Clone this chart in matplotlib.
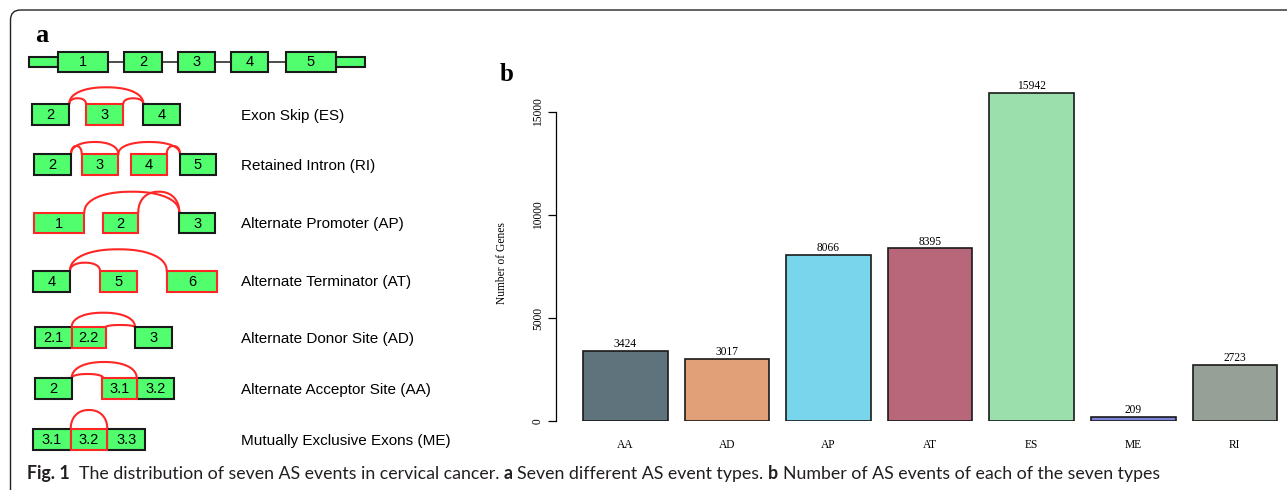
import numpy as np
import matplotlib
matplotlib.use('Agg')
import matplotlib.pyplot as plt
from matplotlib.patches import Rectangle, FancyBboxPatch

# ---------------- data ----------------
categories = ['AA', 'AD', 'AP', 'AT', 'ES', 'ME', 'RI']
counts = [3424, 3017, 8066, 8395, 15942, 209, 2723]
bar_colors = ['#5e737b', '#e2a078', '#79d5eb', '#b8677b', '#9bdfad', '#7b84d8', '#97a097']
y_ticks = [0, 5000, 10000, 15000]

gene_exon_labels = ['1', '2', '3', '4', '5']
event_names = ['Exon Skip (ES)', 'Retained Intron (RI)', 'Alternate Promoter (AP)',
               'Alternate Terminator (AT)', 'Alternate Donor Site (AD)',
               'Alternate Acceptor Site (AA)', 'Mutually Exclusive Exons (ME)']
event_exon_labels = [['2', '3', '4'], ['2', '3', '4', '5'], ['1', '2', '3'], ['4', '5', '6'],
                     ['2.1', '2.2', '3'], ['2', '3.1', '3.2'], ['3.1', '3.2', '3.3']]
event_alt = [[0, 1, 0], [0, 1, 1, 0], [1, 1, 0], [0, 1, 1], [0, 1, 0], [0, 1, 0], [0, 1, 0]]

caption_pieces = [("Fig. 1", 'bold'), ("The distribution of seven AS events in cervical cancer.", 'normal'),
                  ("a", 'bold'), ("Seven different AS event types.", 'normal'),
                  ("b", 'bold'), ("Number of AS events of each of the seven types", 'normal')]

# ---------------- layout (pixels) ----------------
W, H = 1287, 490
gene_utr_x = [(29.3, 58.3), (336, 365)]
gene_exon_x = [(58.3, 108.3), (124.3, 161.7), (177.7, 215), (231, 268.3), (286, 336)]
row_y = [(104, 125), (154.3, 175.5), (212.7, 233.3), (271, 291.7), (327.3, 348.3), (378.3, 399.3), (429.3, 450)]
row_boxes = [[(32.3, 69.3), (86, 123.3), (143.3, 180)],
             [(34, 71), (81.7, 118.3), (130.7, 166.7), (180, 216)],
             [(34.3, 84.3), (102.7, 138.3), (179.3, 215)],
             [(33.3, 70), (100, 136.7), (166.7, 217.3)],
             [(35, 71.7), (71.7, 105.7), (135, 172.3)],
             [(35, 71.7), (101.7, 136.7), (136.7, 174)],
             [(33.3, 70.7), (70.7, 107.3), (107.3, 145)]]
row_arcs = [[(69.3, 143.3, 87.3), (69.3, 86, 98.3), (123.3, 143.3, 98.3)],
            [(71, 118.3, 142), (118.3, 180, 142), (71, 81.7, 146), (166.7, 180, 146)],
            [(84.3, 179.3, 191.7), (138.3, 179.3, 191.7)],
            [(70, 100, 262.7), (70, 166.7, 249.3)],
            [(71.7, 135, 312.7), (105.7, 135, 325)],
            [(71.7, 136.7, 362), (71.7, 103.3, 374)],
            [(70.7, 107.3, 410)]]
GREEN = '#50fe6e'
RED = '#ff2626'
DARK = '#1a1a1a'
SANS = 'Liberation Sans'
SERIF = 'Liberation Serif'

fig = plt.figure(figsize=(W / 100, H / 100), dpi=100)
ax0 = fig.add_axes([0, 0, 1, 1])
ax0.set_xlim(0, W)
ax0.set_ylim(H, 0)
ax0.axis('off')

# frame
ax0.add_patch(FancyBboxPatch((10.5, 10), 1500, 700, boxstyle='round,pad=0,rounding_size=10',
                             fc='none', ec='#222222', lw=1.0))

# panel labels
ax0.text(41.5, 42.3, 'a', fontsize=19, fontweight='bold', family=SERIF, ha='center', va='baseline')
ax0.text(506.5, 80.7, 'b', fontsize=18, fontweight='bold', family=SERIF, ha='center', va='baseline')

# gene structure
gy0, gy1 = 51.7, 72.3
uy0, uy1 = 57.3, 66.7
ax0.plot([gene_exon_x[0][0], gene_exon_x[-1][1]], [62, 62], color=DARK, lw=1.1, zorder=1)
for (x0, x1) in gene_utr_x:
    ax0.add_patch(Rectangle((x0, uy0), x1 - x0, uy1 - uy0, fc=GREEN, ec=DARK, lw=1.5, zorder=2))
for (x0, x1), lab in zip(gene_exon_x, gene_exon_labels):
    ax0.add_patch(Rectangle((x0, gy0), x1 - x0, gy1 - gy0, fc=GREEN, ec=DARK, lw=1.5, zorder=2))
    ax0.text((x0 + x1) / 2, (gy0 + gy1) / 2 + 0.5, lab, family=SANS, fontsize=10.5,
             ha='center', va='center', zorder=3)

# events
t = np.linspace(np.pi, 2 * np.pi, 120)
p = 0.9
ct, st = np.cos(t), np.sin(t)
ux = np.sign(ct) * np.abs(ct) ** p
uy = -np.abs(st) ** p
for name, labs, alts, (y0, y1), boxes, arcs in zip(event_names, event_exon_labels, event_alt,
                                                   row_y, row_boxes, row_arcs):
    for (xa, xb, peak) in arcs:
        cx, rx, ry = (xa + xb) / 2, (xb - xa) / 2, y0 - peak
        ax0.plot(cx + rx * ux, y0 + ry * uy, color=RED, lw=1.5, zorder=1,
                 solid_capstyle='round')
    order = sorted(range(len(boxes)), key=lambda i: alts[i])
    for i in order:
        x0, x1 = boxes[i]
        ec = RED if alts[i] else DARK
        ax0.add_patch(Rectangle((x0, y0), x1 - x0, y1 - y0, fc=GREEN, ec=ec, lw=1.5, zorder=2 + alts[i]))
        ax0.text((x0 + x1) / 2, (y0 + y1) / 2 + 0.5, labs[i], family=SANS, fontsize=10.5,
                 ha='center', va='center', zorder=4)
    ax0.text(240.7, (y0 + y1) / 2 + 1, name, family=SANS, fontsize=11, ha='left', va='center')

# ---------------- panel b ----------------
unit = 101.55
left_px, right_px = 556, W
base_px, top_val = 421.3, 16500
px_per_val = 309.3 / 15000
ax = fig.add_axes([left_px / W, (H - base_px) / H, (right_px - left_px) / W, top_val * px_per_val / H])
ax.patch.set_alpha(0)
x = np.arange(len(categories))
ax.bar(x, counts, width=84.5 / unit, color=bar_colors, edgecolor=DARK, linewidth=1.2)
x_left = (left_px - 625.5) / unit
ax.set_xlim(x_left, x_left + (right_px - left_px) / unit)
ax.set_ylim(0, top_val)
for s in ['top', 'right', 'bottom']:
    ax.spines[s].set_visible(False)
ax.spines['left'].set_bounds(0, 15000)
ax.spines['left'].set_linewidth(0.9)
ax.set_yticks(y_ticks)
ax.set_yticklabels([str(v) for v in y_ticks], rotation=90, va='center', family=SERIF, fontsize=8.3)
ax.tick_params(axis='y', length=5.8, width=0.9, pad=3)
ax.set_xticks(x)
ax.set_xticklabels(categories, family=SERIF, fontsize=8.3)
ax.tick_params(axis='x', length=0, pad=13)
for i, v in enumerate(counts):
    ax.annotate(str(v), (i, v), xytext=(0, 0.5), textcoords='offset points', ha='center',
                va='bottom', family=SERIF, fontsize=8.3)
ax.set_ylabel('Number of Genes', family=SERIF, fontsize=8.3)
ax.yaxis.set_label_coords((508 - left_px) / (right_px - left_px), (base_px - 263) / (top_val * px_per_val))

# ---------------- caption ----------------
renderer = fig.canvas.get_renderer()
CAP = 'Lato'


def layout_caption(size, draw):
    def mk(s, wt):
        return ax0.text(0, 0, s, family=CAP, fontweight=wt, fontsize=size)
    ta, tb = mk('a a', 'normal'), mk('aa', 'normal')
    sp = ta.get_window_extent(renderer).width - tb.get_window_extent(renderer).width
    ta.remove(); tb.remove()
    xcur = 27
    for k, (s, wt) in enumerate(caption_pieces):
        if k > 0:
            xcur += sp * (2 if k == 1 else 1)
        tt = ax0.text(xcur, 479, s, family=CAP, fontweight=wt, fontsize=size,
                      ha='left', va='baseline', color='#231f20')
        xcur += tt.get_window_extent(renderer).width
        if not draw:
            tt.remove()
    return xcur - 27


total = layout_caption(12, False)
layout_caption(12 * 1128 / total, True)

fig.savefig('out.png', dpi=100)
